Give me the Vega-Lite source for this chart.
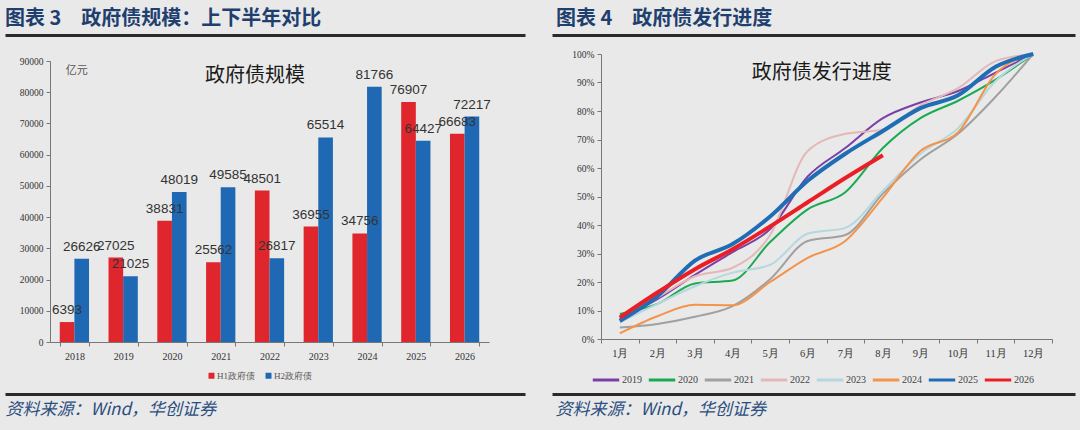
{
  "$schema": "https://vega.github.io/schema/vega-lite/v6.json",
  "background": "#e9e9e9",
  "padding": {"left": 5, "right": 5, "top": 9, "bottom": 14},
  "config": {
    "view": {"stroke": null},
    "font": "Noto Sans CJK SC",
    "title": {"font": "Noto Sans CJK SC", "fontSize": 20, "fontWeight": "bold", "color": "#1f3f6f", "anchor": "start", "offset": 6}
  },
  "datasets": {
    "bond": [
      {"year": "2018", "half": "H1政府债", "value": 6393},
      {"year": "2018", "half": "H2政府债", "value": 26626},
      {"year": "2019", "half": "H1政府债", "value": 27025},
      {"year": "2019", "half": "H2政府债", "value": 21025},
      {"year": "2020", "half": "H1政府债", "value": 38831},
      {"year": "2020", "half": "H2政府债", "value": 48019},
      {"year": "2021", "half": "H1政府债", "value": 25562},
      {"year": "2021", "half": "H2政府债", "value": 49585},
      {"year": "2022", "half": "H1政府债", "value": 48501},
      {"year": "2022", "half": "H2政府债", "value": 26817},
      {"year": "2023", "half": "H1政府债", "value": 36955},
      {"year": "2023", "half": "H2政府债", "value": 65514},
      {"year": "2024", "half": "H1政府债", "value": 34756},
      {"year": "2024", "half": "H2政府债", "value": 81766},
      {"year": "2025", "half": "H1政府债", "value": 76907},
      {"year": "2025", "half": "H2政府债", "value": 64427},
      {"year": "2026", "half": "H1政府债", "value": 66683},
      {"year": "2026", "half": "H2政府债", "value": 72217}
    ],
    "progress": [
      {"series": "2019", "month": "1月", "share": 0.07},
      {"series": "2019", "month": "2月", "share": 0.14},
      {"series": "2019", "month": "3月", "share": 0.225},
      {"series": "2019", "month": "4月", "share": 0.305},
      {"series": "2019", "month": "5月", "share": 0.386},
      {"series": "2019", "month": "6月", "share": 0.57},
      {"series": "2019", "month": "7月", "share": 0.67},
      {"series": "2019", "month": "8月", "share": 0.775},
      {"series": "2019", "month": "9月", "share": 0.83},
      {"series": "2019", "month": "10月", "share": 0.87},
      {"series": "2019", "month": "11月", "share": 0.935},
      {"series": "2019", "month": "12月", "share": 1.0},
      {"series": "2020", "month": "1月", "share": 0.088},
      {"series": "2020", "month": "2月", "share": 0.123},
      {"series": "2020", "month": "3月", "share": 0.195},
      {"series": "2020", "month": "4月", "share": 0.205},
      {"series": "2020", "month": "5月", "share": 0.34},
      {"series": "2020", "month": "6月", "share": 0.455},
      {"series": "2020", "month": "7月", "share": 0.515},
      {"series": "2020", "month": "8月", "share": 0.67},
      {"series": "2020", "month": "9月", "share": 0.775},
      {"series": "2020", "month": "10月", "share": 0.836},
      {"series": "2020", "month": "11月", "share": 0.91},
      {"series": "2020", "month": "12月", "share": 1.0},
      {"series": "2021", "month": "1月", "share": 0.04},
      {"series": "2021", "month": "2月", "share": 0.053},
      {"series": "2021", "month": "3月", "share": 0.078},
      {"series": "2021", "month": "4月", "share": 0.115},
      {"series": "2021", "month": "5月", "share": 0.21},
      {"series": "2021", "month": "6月", "share": 0.344},
      {"series": "2021", "month": "7月", "share": 0.365},
      {"series": "2021", "month": "8月", "share": 0.51},
      {"series": "2021", "month": "9月", "share": 0.63},
      {"series": "2021", "month": "10月", "share": 0.72},
      {"series": "2021", "month": "11月", "share": 0.85},
      {"series": "2021", "month": "12月", "share": 1.0},
      {"series": "2022", "month": "1月", "share": 0.076},
      {"series": "2022", "month": "2月", "share": 0.146},
      {"series": "2022", "month": "3月", "share": 0.22},
      {"series": "2022", "month": "4月", "share": 0.25},
      {"series": "2022", "month": "5月", "share": 0.365},
      {"series": "2022", "month": "6月", "share": 0.66},
      {"series": "2022", "month": "7月", "share": 0.72},
      {"series": "2022", "month": "8月", "share": 0.735},
      {"series": "2022", "month": "9月", "share": 0.82},
      {"series": "2022", "month": "10月", "share": 0.88},
      {"series": "2022", "month": "11月", "share": 0.975},
      {"series": "2022", "month": "12月", "share": 1.0},
      {"series": "2023", "month": "1月", "share": 0.058},
      {"series": "2023", "month": "2月", "share": 0.123},
      {"series": "2023", "month": "3月", "share": 0.185},
      {"series": "2023", "month": "4月", "share": 0.233},
      {"series": "2023", "month": "5月", "share": 0.26},
      {"series": "2023", "month": "6月", "share": 0.37},
      {"series": "2023", "month": "7月", "share": 0.39},
      {"series": "2023", "month": "8月", "share": 0.52},
      {"series": "2023", "month": "9月", "share": 0.65},
      {"series": "2023", "month": "10月", "share": 0.74},
      {"series": "2023", "month": "11月", "share": 0.905},
      {"series": "2023", "month": "12月", "share": 1.0},
      {"series": "2024", "month": "1月", "share": 0.02},
      {"series": "2024", "month": "2月", "share": 0.08},
      {"series": "2024", "month": "3月", "share": 0.12},
      {"series": "2024", "month": "4月", "share": 0.118},
      {"series": "2024", "month": "5月", "share": 0.2},
      {"series": "2024", "month": "6月", "share": 0.285},
      {"series": "2024", "month": "7月", "share": 0.344},
      {"series": "2024", "month": "8月", "share": 0.496},
      {"series": "2024", "month": "9月", "share": 0.66},
      {"series": "2024", "month": "10月", "share": 0.725},
      {"series": "2024", "month": "11月", "share": 0.93},
      {"series": "2024", "month": "12月", "share": 1.0},
      {"series": "2025", "month": "1月", "share": 0.063},
      {"series": "2025", "month": "2月", "share": 0.15},
      {"series": "2025", "month": "3月", "share": 0.275},
      {"series": "2025", "month": "4月", "share": 0.333},
      {"series": "2025", "month": "5月", "share": 0.43},
      {"series": "2025", "month": "6月", "share": 0.555},
      {"series": "2025", "month": "7月", "share": 0.65},
      {"series": "2025", "month": "8月", "share": 0.73},
      {"series": "2025", "month": "9月", "share": 0.81},
      {"series": "2025", "month": "10月", "share": 0.855},
      {"series": "2025", "month": "11月", "share": 0.955},
      {"series": "2025", "month": "12月", "share": 1.0},
      {"series": "2026", "month": "1月", "share": 0.075},
      {"series": "2026", "month": "2月", "share": 0.163},
      {"series": "2026", "month": "3月", "share": 0.245},
      {"series": "2026", "month": "4月", "share": 0.315},
      {"series": "2026", "month": "5月", "share": 0.395},
      {"series": "2026", "month": "6月", "share": 0.48},
      {"series": "2026", "month": "7月", "share": 0.565},
      {"series": "2026", "month": "8月", "share": 0.645}
    ]
  },
  "vconcat": [
    {
      "spacing": 27,
      "resolve": {"scale": {"x": "independent", "y": "independent", "color": "independent"}, "legend": {"color": "independent"}, "axis": {"x": "independent", "y": "independent"}},
      "hconcat": [
        {
          "width": 520,
          "height": 288,
          "title": {"text": "图表  3　政府债规模：上下半年对比"},
          "layer": [
            {
              "data": {"name": "bond"},
              "encoding": {
                "x": {
                  "field": "year", "type": "ordinal",
                  "scale": {"range": [45, 484], "paddingInner": 0.4, "paddingOuter": 0.2},
                  "axis": {"orient": "bottom", "title": null, "labelAngle": 0, "tickBand": "extent", "tickSize": 4, "tickColor": "#777", "domainColor": "#777", "labelFont": "Liberation Serif", "labelFontSize": 10, "labelColor": "#333", "labelPadding": 5}
                },
                "xOffset": {"field": "half", "type": "nominal", "sort": ["H1政府债", "H2政府债"]},
                "y": {
                  "field": "value", "type": "quantitative",
                  "scale": {"domain": [0, 90000], "range": [288, 7], "nice": false},
                  "axis": {"offset": -45, "title": null, "grid": false, "values": [0, 10000, 20000, 30000, 40000, 50000, 60000, 70000, 80000, 90000], "format": "d", "labelOverlap": false, "tickSize": 4, "tickColor": "#777", "domainColor": "#777", "labelFont": "Liberation Serif", "labelFontSize": 9.5, "labelColor": "#333", "labelPadding": 3}
                }
              },
              "layer": [
                {
                  "mark": {"type": "bar"},
                  "encoding": {
                    "color": {
                      "field": "half", "type": "nominal",
                      "scale": {"domain": ["H1政府债", "H2政府债"], "range": ["#e0262d", "#1f69b4"]},
                      "legend": {"title": null, "orient": "none", "legendX": 202, "legendY": 317, "direction": "horizontal", "symbolType": "square", "symbolSize": 36, "labelFont": "Liberation Serif", "labelFontSize": 9, "labelColor": "#555", "columnPadding": 9, "labelOffset": 1}
                    }
                  }
                },
                {
                  "mark": {"type": "text", "baseline": "bottom", "dy": -5, "font": "Liberation Sans", "fontSize": 13.5, "color": "#333"},
                  "encoding": {"text": {"field": "value", "type": "quantitative", "format": "d"}}
                }
              ]
            },
            {
              "data": {"values": [{}]},
              "encoding": {
                "y": {
                  "type": "quantitative",
                  "axis": {"offset": -45, "title": null, "grid": false, "values": [0, 10000, 20000, 30000, 40000, 50000, 60000, 70000, 80000, 90000], "format": "d", "labelOverlap": false, "tickSize": 4, "tickColor": "#777", "domainColor": "#777", "labelFont": "Liberation Serif", "labelFontSize": 9.5, "labelColor": "#333", "labelPadding": 3}
                }
              },
              "layer": [
                {
                  "mark": {"type": "text", "font": "Noto Sans CJK SC", "fontSize": 20, "color": "#1a1a1a"},
                  "encoding": {
                    "x": {
                      "datum": 0.481, "type": "quantitative",
                      "scale": {"domain": [0, 1], "nice": false, "zero": false},
                      "axis": {"orient": "top", "offset": 19, "domain": true, "domainColor": "#2a2a2a", "domainWidth": 3, "ticks": false, "labels": false, "grid": false, "title": null}
                    },
                    "y": {"datum": 85200},
                    "text": {"value": "政府债规模"}
                  }
                },
                {
                  "mark": {"type": "text", "font": "Noto Sans CJK SC", "fontSize": 11, "color": "#555"},
                  "encoding": {
                    "x": {"datum": 0.138, "type": "quantitative"},
                    "y": {"datum": 86800},
                    "text": {"value": "亿元"}
                  }
                }
              ]
            }
          ],
          "resolve": {"scale": {"x": "independent"}, "axis": {"x": "independent"}}
        },
        {
          "width": 523,
          "height": 285,
          "title": {"text": "图表  4　政府债发行进度", "dx": 4},
          "layer": [
            {
              "data": {"name": "progress"},
              "encoding": {
                "x": {
                  "field": "month", "type": "ordinal",
                  "sort": ["1月", "2月", "3月", "4月", "5月", "6月", "7月", "8月", "9月", "10月", "11月", "12月"],
                  "scale": {"range": [49, 500], "paddingInner": 0, "paddingOuter": 0},
                  "axis": {"orient": "bottom", "title": null, "labelAngle": 0, "tickBand": "extent", "tickSize": 4, "tickColor": "#777", "domainColor": "#777", "labelFont": "Liberation Serif", "labelFontSize": 10.5, "labelColor": "#333", "labelPadding": 5}
                },
                "y": {
                  "field": "share", "type": "quantitative",
                  "scale": {"domain": [0, 1], "nice": false},
                  "axis": {"offset": -49, "title": null, "grid": false, "values": [0, 0.1, 0.2, 0.3, 0.4, 0.5, 0.6, 0.7, 0.8, 0.9, 1], "format": ".0%", "labelOverlap": false, "tickSize": 4, "tickColor": "#777", "domainColor": "#777", "labelFont": "Liberation Serif", "labelFontSize": 9.5, "labelColor": "#333", "labelPadding": 3}
                },
                "color": {
                  "field": "series", "type": "nominal",
                  "scale": {"domain": ["2019", "2020", "2021", "2022", "2023", "2024", "2025", "2026"], "range": ["#7b3fa8", "#1aab52", "#a0a0a0", "#e3b8b6", "#b5d7de", "#f4934a", "#1f6db5", "#ea1f26"]},
                  "legend": {"title": null, "orient": "none", "legendX": 39, "legendY": 311, "direction": "horizontal", "symbolType": "stroke", "symbolSize": 700, "symbolStrokeWidth": 3, "labelFont": "Liberation Serif", "labelFontSize": 10, "labelColor": "#444", "columnPadding": 0, "labelOffset": 1}
                }
              },
              "layer": [
                {
                  "transform": [{"filter": "datum.series != '2025' && datum.series != '2026'"}],
                  "mark": {"type": "line", "interpolate": "monotone", "strokeWidth": 2}
                },
                {
                  "transform": [{"filter": "datum.series == '2025' || datum.series == '2026'"}],
                  "mark": {"type": "line", "interpolate": "monotone", "strokeWidth": 4}
                }
              ]
            },
            {
              "data": {"values": [{}]},
              "mark": {"type": "text", "font": "Noto Sans CJK SC", "fontSize": 20, "color": "#1a1a1a"},
              "encoding": {
                "x": {
                  "datum": 0.516, "type": "quantitative",
                  "scale": {"domain": [0, 1], "nice": false, "zero": false},
                  "axis": {"orient": "top", "offset": 19, "domain": true, "domainColor": "#2a2a2a", "domainWidth": 3, "ticks": false, "labels": false, "grid": false, "title": null}
                },
                "y": {
                  "datum": 0.933, "type": "quantitative",
                  "axis": {"offset": -49, "title": null, "grid": false, "values": [0, 0.1, 0.2, 0.3, 0.4, 0.5, 0.6, 0.7, 0.8, 0.9, 1], "format": ".0%", "labelOverlap": false, "tickSize": 4, "tickColor": "#777", "domainColor": "#777", "labelFont": "Liberation Serif", "labelFontSize": 9.5, "labelColor": "#333", "labelPadding": 3}
                },
                "text": {"value": "政府债发行进度"}
              }
            }
          ],
          "resolve": {"scale": {"x": "independent"}, "axis": {"x": "independent"}}
        }
      ]
    },
    {
      "spacing": 27,
      "hconcat": [
        {
          "width": 520,
          "height": 1,
          "data": {"values": [{}]},
          "mark": {"type": "text"},
          "encoding": {
            "x": {
              "datum": 0, "type": "quantitative",
              "scale": {"domain": [0, 1], "nice": false},
              "axis": {"orient": "bottom", "domainColor": "#2a2a2a", "domainWidth": 3, "ticks": false, "labels": false, "grid": false, "title": "资料来源：Wind，华创证券", "titleAnchor": "start", "titleAlign": "left", "titleFont": "Noto Sans CJK SC", "titleFontStyle": "italic", "titleFontWeight": "normal", "titleFontSize": 17, "titleColor": "#2b4e80", "titlePadding": 7}
            },
            "text": {"value": ""}
          }
        },
        {
          "width": 523,
          "height": 1,
          "data": {"values": [{}]},
          "mark": {"type": "text"},
          "encoding": {
            "x": {
              "datum": 0, "type": "quantitative",
              "scale": {"domain": [0, 1], "nice": false},
              "axis": {"orient": "bottom", "domainColor": "#2a2a2a", "domainWidth": 3, "ticks": false, "labels": false, "grid": false, "title": "资料来源：Wind，华创证券", "titleAnchor": "start", "titleAlign": "left", "titleFont": "Noto Sans CJK SC", "titleFontStyle": "italic", "titleFontWeight": "normal", "titleFontSize": 17, "titleColor": "#2b4e80", "titlePadding": 7, "titleX": 3}
            },
            "text": {"value": ""}
          }
        }
      ]
    }
  ],
  "spacing": 1
}
